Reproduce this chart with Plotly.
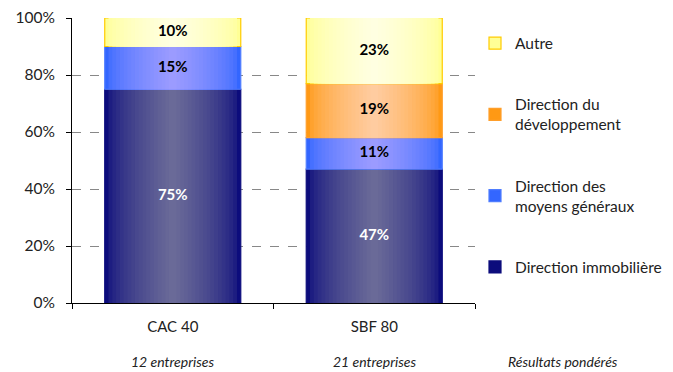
import plotly.graph_objects as go

categories = ["CAC 40", "SBF 80"]
companies = ["12 entreprises", "21 entreprises"]
note = "Résultats pondérés"

series_names = ["Direction immobilière", "Direction des<br>moyens généraux",
                "Direction du<br>développement", "Autre"]
immo = [75, 47]
moyens = [15, 11]
dev = [0, 19]
autre = [10, 23]
series_values = [immo, moyens, dev, autre]

edge_colors = [(12, 12, 124), (51, 102, 255), (255, 153, 20), (255, 255, 150)]
center_colors = [(106, 106, 152), (155, 155, 255), (255, 204, 160), (255, 255, 225)]
border_colors = ["#0c0c7c", "#4f7dff", "#ff9e2a", "#ffcc00"]
text_colors = ["white", "black", "black", "black"]

FONT = "Lato"
W = 0.675
N = 18

def mix(a, b, t):
    return "rgb(%d,%d,%d)" % tuple(round(a[i] + (b[i] - a[i]) * t) for i in range(3))

fig = go.Figure()
bases = [0, 0]
for s, (name, vals) in enumerate(zip(series_names, series_values)):
    base = list(bases)
    for k in range(N):
        t = (k / (N - 1)) ** 0.6
        fig.add_trace(go.Bar(
            x=categories, y=vals, base=base, width=W * (1 - k / N),
            marker=dict(color=mix(edge_colors[s], center_colors[s], t),
                        line=dict(width=1.2 if k == 0 else 0, color=border_colors[s])),
            name=name, showlegend=(k == 0), legendrank=4 - s,
            legendgroup=name, hoverinfo="skip",
        ))
    ys = [b + v / 2 for b, v in zip(base, vals)]
    txt = ["%d%%" % v if v > 0 else "" for v in vals]
    fig.add_trace(go.Scatter(
        x=categories, y=ys, text=txt, mode="text", showlegend=False,
        textfont=dict(family=FONT, size=15, color=text_colors[s], weight="bold"),
        hoverinfo="skip",
    ))
    bases = [b + v for b, v in zip(bases, vals)]

for c, txt in zip(categories, companies):
    fig.add_annotation(x=c, y=-0.205, yref="paper", text="<i>%s</i>" % txt,
                       showarrow=False, font=dict(family=FONT, size=14, color="#222"),
                       xanchor="center", yanchor="middle")
fig.add_annotation(x=1.218, y=-0.205, xref="paper", yref="paper", text="<i>%s</i>" % note,
                   showarrow=False, font=dict(family=FONT, size=14, color="#222"),
                   xanchor="center", yanchor="middle")

fig.update_layout(
    width=673, height=372,
    margin=dict(l=72, r=198, t=18, b=69, autoexpand=False),
    barmode="overlay",
    plot_bgcolor="white", paper_bgcolor="white",
    font=dict(family=FONT, size=15, color="#222"),
    legend=dict(x=1.0, y=0.97, xanchor="left", yanchor="top",
                font=dict(family=FONT, size=15.5, color="#222"),
                tracegroupgap=38, itemclick=False),
    xaxis=dict(type="category", showline=True, linecolor="black", linewidth=1,
               ticks="outside", tickson="boundaries", ticklen=5, tickcolor="black",
               showgrid=False, tickfont=dict(size=15), range=[-0.5, 1.5],
               ticklabelstandoff=10),
    yaxis=dict(range=[0, 100], dtick=20, ticksuffix="%", showline=True,
               linecolor="black", linewidth=1, ticks="outside", ticklen=5,
               tickcolor="black", showgrid=True, gridcolor="#888",
               griddash="dash", gridwidth=1, zeroline=False, tickfont=dict(size=15.5),
               ticklabelstandoff=8),
)

fig.write_html("out.html")
